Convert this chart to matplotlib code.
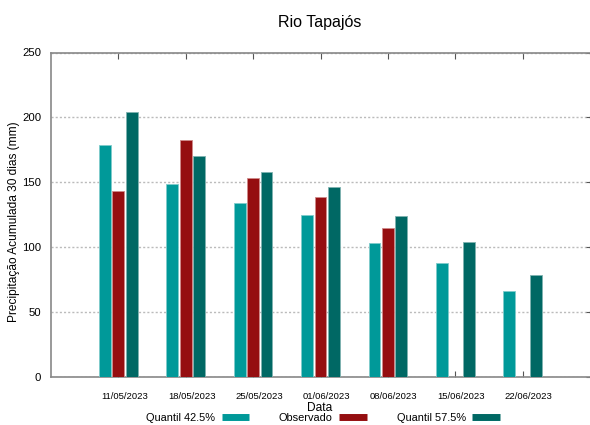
import numpy as np
import matplotlib.pyplot as plt
import matplotlib.transforms as mtransforms
from matplotlib.lines import Line2D

plt.rcParams['font.family'] = ['Liberation Sans Narrow', 'Liberation Sans', 'DejaVu Sans']

# Data
datas = ['11/05/2023', '18/05/2023', '25/05/2023', '01/06/2023',
         '08/06/2023', '15/06/2023', '22/06/2023']
q425 = [179, 148.5, 134, 125, 103, 88, 66]
observado = [143, 182.5, 153, 139, 115, np.nan, np.nan]
q575 = [204.5, 170.5, 158, 146, 124, 104, 78.5]

c_q425 = '#009999'
c_obs = '#950E10'
c_q575 = '#006864'

fig = plt.figure(figsize=(5.9, 4.25), dpi=100)
ax = fig.add_axes([51 / 590, 1 - 377 / 425, 539 / 590, 324.5 / 425])

x = np.arange(len(datas))
w = 0.175
off = 0.2
ax.bar(x - off, q425, w, color=c_q425, edgecolor='#7fcccc', linewidth=0.6, zorder=3)
ax.bar(x, observado, w, color=c_obs, edgecolor='#d08a8a', linewidth=0.6, zorder=3)
ax.bar(x + off, q575, w, color=c_q575, edgecolor='#7fb2b0', linewidth=0.6, zorder=3)

ax.set_xlim(-1, 7)
ax.set_ylim(0, 250)
ax.set_yticks([0, 50, 100, 150, 200, 250])
ax.set_xticks(x)
ax.set_xticklabels(datas, fontsize=6.8)
ax.tick_params(axis='y', labelsize=8.2, direction='in', length=3, right=True, left=False,
               color='#555555', pad=7)
ax.tick_params(axis='x', direction='in', length=4, top=True, bottom=True,
               color='#555555', pad=11)
shift = mtransforms.ScaledTranslation(6 / 100, 0, fig.dpi_scale_trans)
for lbl in ax.get_xticklabels():
    lbl.set_transform(lbl.get_transform() + shift)
ax.grid(axis='y', color='#bbbbbb', linestyle=(0, (1.5, 1.5)), linewidth=1.0, zorder=0)

for s in ['top', 'bottom', 'left']:
    ax.spines[s].set_color('#888888')
    ax.spines[s].set_linewidth(1.2)
ax.spines['right'].set_visible(False)

fig.text(14 / 590, 1 - 222 / 425, 'Precipitação Acumulada 30 dias (mm)', rotation=90,
         ha='center', va='center', fontsize=8.6)
fig.text(320 / 590, 1 - 408 / 425, 'Data', ha='center', va='center', fontsize=8.6)
fig.text(320 / 590, 1 - 22 / 425, 'Rio Tapajós', ha='center', va='center', fontsize=11.5)

handles = [Line2D([], [], color=c_q425, linewidth=5, solid_capstyle='butt'),
           Line2D([], [], color=c_obs, linewidth=5, solid_capstyle='butt'),
           Line2D([], [], color=c_q575, linewidth=5, solid_capstyle='butt')]
fig.legend(handles, ['Quantil 42.5%', 'Observado', 'Quantil 57.5%'],
           loc='center', bbox_to_anchor=(323 / 590, 1 - 418 / 425), ncol=3,
           markerfirst=False, frameon=False, fontsize=7.9, handlelength=2.5,
           handletextpad=0.6, columnspacing=2.7, borderpad=0, borderaxespad=0)

fig.savefig('out.png', dpi=100)
